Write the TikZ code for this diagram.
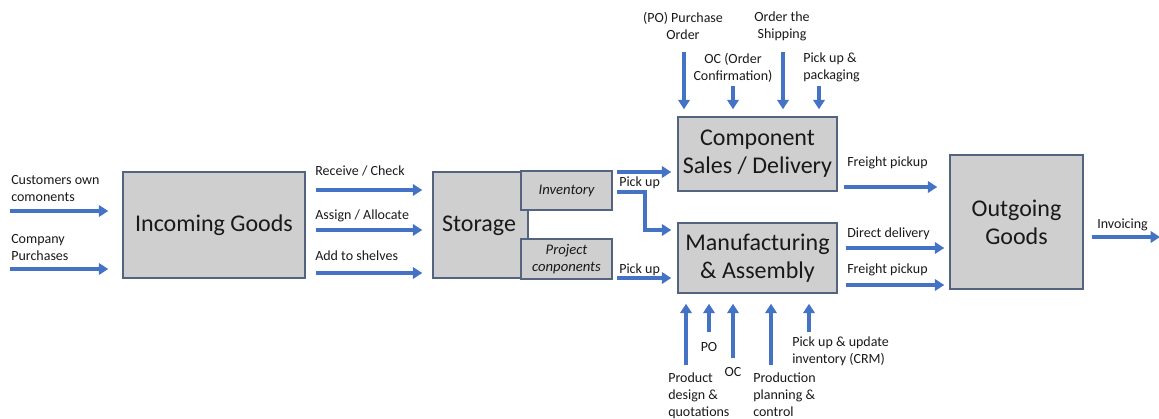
\documentclass[tikz,border=0pt]{standalone}
\usepackage{fontspec}
\setmainfont{Carlito}
\usetikzlibrary{arrows.meta}
\definecolor{flowblue}{RGB}{68,114,196}
\definecolor{boxgray}{RGB}{208,207,207}
\definecolor{boxedge}{RGB}{84,99,128}
\definecolor{txt}{RGB}{25,25,25}

\begin{document}
\begin{tikzpicture}[x = 0.75pt, y = -0.75pt, text = txt,
                        block/.style = {draw = boxedge, fill = boxgray, line width = 1.1pt, inner sep = 0pt,
                                        align = center, font = \fontsize{18}{21}\selectfont},
                        subblock/.style = {block, font = \fontsize{11}{12.5}\selectfont\itshape},
                        flow/.style = {draw = flowblue, line width = 2.9pt, -{Triangle[length = 7pt, width = 8.5pt]}},
                        lbl/.style = {inner sep = 0pt, align = left, font = \fontsize{10.5}{12.5}\selectfont}]
      \useasboundingbox (0, 0) rectangle (1159, 418);
      \node [block, minimum width = 136.5pt, minimum height = 79.5pt] (IG) at (214, 225) {Incoming Goods};
      \node [block, minimum width = 71.25pt, minimum height = 79.5pt] (ST) at (480.5, 225) {};
      \node [font = \fontsize{18}{21}\selectfont] (STt) at (479, 226) {Storage};
      \node [subblock, minimum width = 68.25pt, minimum height = 29.25pt] (INV) at (566.5, 190.5) {Inventory};
      \node [subblock, minimum width = 68.25pt, minimum height = 30pt] (PC) at (566.5, 259) {Project\\conponents};
      \node [block, minimum width = 119.25pt, minimum height = 55.5pt] (CS) at (757.5, 154) {Component\\Sales / Delivery};
      \node [block, minimum width = 119.25pt, minimum height = 52.5pt] (MA) at (757.5, 258) {Manufacturing\\\& Assembly};
      \node [block, minimum width = 99.75pt, minimum height = 100.5pt] (OG) at (1016.5, 222) {Outgoing\\Goods};

      \node [lbl, anchor = north west] (cust) at (11, 175) {Customers own\\comonents};
      \node [lbl, anchor = north west] (comp) at (11, 234) {Company\\Purchases};
      \node [lbl, anchor = north west] (recv) at (315, 166) {Receive / Check};
      \node [lbl, anchor = north west] (assg) at (315, 210) {Assign / Allocate};
      \node [lbl, anchor = north west] (shlv) at (315, 251) {Add to shelves};
      \node [lbl, anchor = north west] (pk1) at (619, 177) {Pick up};
      \node [lbl, anchor = north west] (pk2) at (619, 264) {Pick up};
      \node [lbl, align = center, anchor = north] (po1) at (683, 12) {(PO) Purchase\\Order};
      \node [lbl, align = center, anchor = north] (oc1) at (733, 53) {OC (Order\\Confirmation)};
      \node [lbl, align = center, anchor = north] (ship) at (782, 12) {Order the\\Shipping};
      \node [lbl, anchor = north west] (pack) at (803, 53) {Pick up \&\\packaging};
      \node [lbl, anchor = north west] (fr1) at (847, 157) {Freight pickup};
      \node [lbl, anchor = north west] (dd) at (847, 228) {Direct delivery};
      \node [lbl, anchor = north west] (fr2) at (847, 264) {Freight pickup};
      \node [lbl, anchor = north west] (invc) at (1097, 219) {Invoicing};
      \node [lbl, align = center, anchor = north] (po2) at (709, 342) {PO};
      \node [lbl, align = center, anchor = north] (oc2) at (733, 367) {OC};
      \node [lbl, anchor = north west] (prod) at (668, 373) {Product\\design \&\\quotations};
      \node [lbl, anchor = north west] (plan) at (753, 373) {Production\\planning \&\\control};
      \node [lbl, anchor = north west] (crm) at (792, 337) {Pick up \& update\\inventory (CRM)};

      \coordinate (in1) at (10, 211); \coordinate (in2) at (10, 269);
      \draw [flow, shorten >= 10.5pt] (in1) -- (in1 -| IG.west);
      \draw [flow, shorten >= 10.5pt] (in2) -- (in2 -| IG.west);
      \draw [flow, shorten <= 7.5pt, shorten >= 7.5pt] (IG.east |- 0, 190) -- (ST.west |- 0, 190);
      \draw [flow, shorten <= 7.5pt, shorten >= 7.5pt] (IG.east |- 0, 230) -- (ST.west |- 0, 230);
      \draw [flow, shorten <= 7.5pt, shorten >= 7.5pt] (IG.east |- 0, 273) -- (ST.west |- 0, 273);
      \draw [flow, shorten <= 3pt, shorten >= 4.5pt] (INV.east |- 0, 172) -- (CS.west |- 0, 172);
      \draw [flow, shorten <= 3pt, shorten >= 4.5pt] (INV.east |- 0, 192) -- (645, 192) -- (645, 230) -- (MA.west |- 0, 230);
      \draw [flow, shorten <= 3pt, shorten >= 4.5pt] (PC.east |- 0, 278) -- (MA.west |- 0, 278);

      \coordinate (t1) at (684, 52); \coordinate (t2) at (733, 86);
      \coordinate (t3) at (783, 52); \coordinate (t4) at (819, 86);
      \foreach \t in {t1, t2, t3, t4}
        \draw [flow, shorten >= 5.25pt] (\t) -- (\t |- CS.north);
      \coordinate (b1) at (686, 365); \coordinate (b2) at (709, 332); \coordinate (b3) at (733, 358);
      \coordinate (b4) at (771, 365); \coordinate (b5) at (809, 332);
      \foreach \b in {b1, b2, b3, b4, b5}
        \draw [flow, shorten >= 7.5pt] (\b) -- (\b |- MA.south);

      \draw [flow, shorten <= 4.5pt, shorten >= 9pt] (CS.east |- 0, 187) -- (OG.west |- 0, 187);
      \draw [flow, shorten <= 6pt, shorten >= 3.75pt] (MA.east |- 0, 248) -- (OG.west |- 0, 248);
      \draw [flow, shorten <= 6pt, shorten >= 3.75pt] (MA.east |- 0, 285) -- (OG.west |- 0, 285);
      \coordinate (out) at (1160, 237);
      \draw [flow, shorten <= 6pt] (OG.east |- out) -- (out);
    \end{tikzpicture}
\end{document}
